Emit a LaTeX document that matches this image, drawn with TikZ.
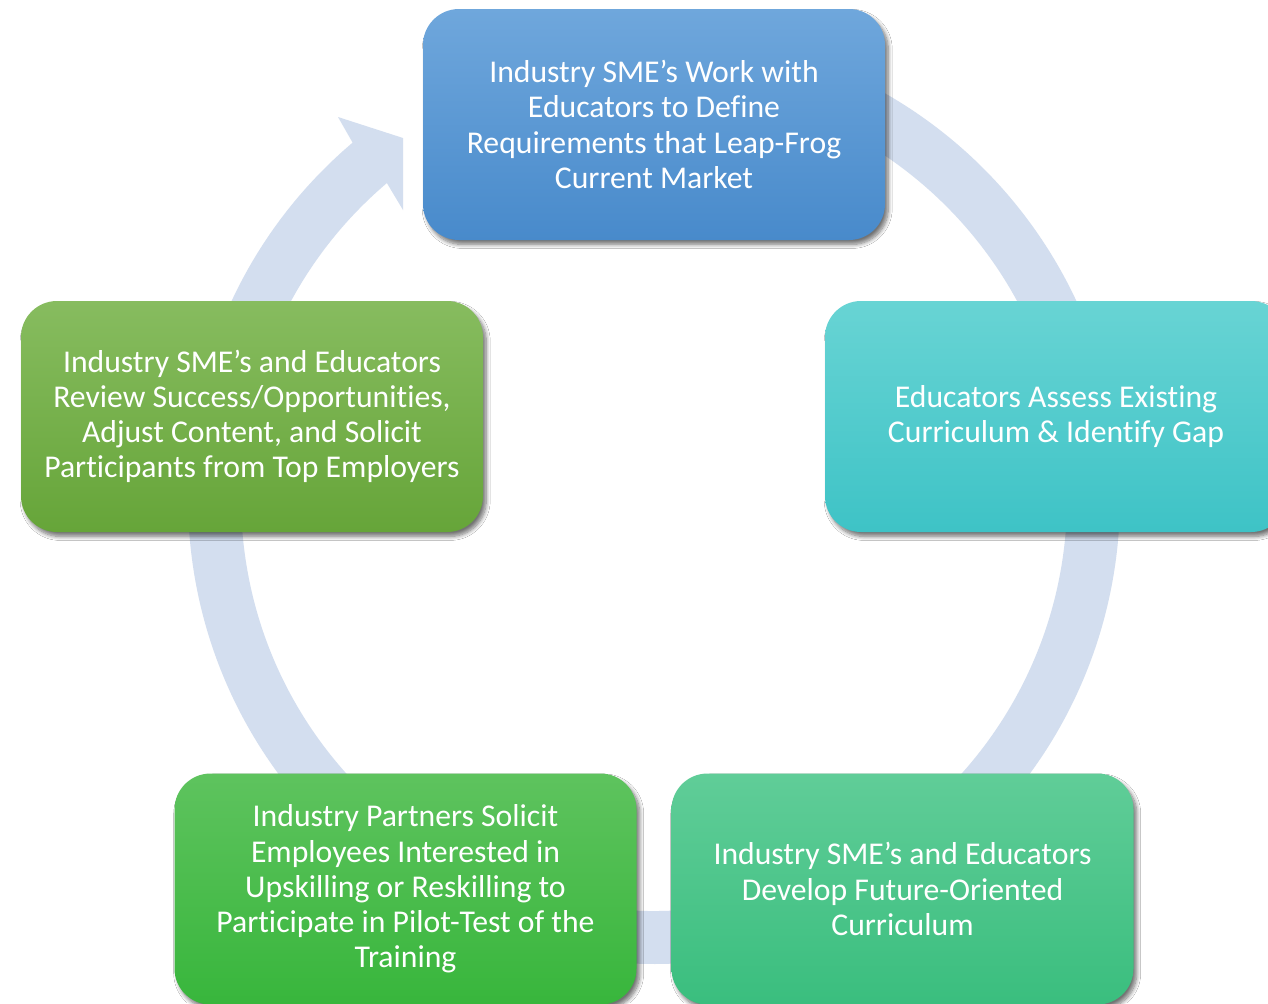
\documentclass[tikz,border=0pt]{standalone}
\usepackage{fontspec}
\setmainfont{Carlito}[Ligatures={NoCommon}]
\usetikzlibrary{calc,shadows.blur}

\definecolor{ringfill}{HTML}{D3DEEF}
\definecolor{blueT}{HTML}{6FA7DC}
\definecolor{blueB}{HTML}{488ACB}
\definecolor{tealT}{HTML}{68D4D4}
\definecolor{tealB}{HTML}{3EC3C6}
\definecolor{mintT}{HTML}{60CD98}
\definecolor{mintB}{HTML}{3ABE7E}
\definecolor{grnT}{HTML}{5EC35E}
\definecolor{grnB}{HTML}{38B63C}
\definecolor{oliveT}{HTML}{87BC5F}
\definecolor{oliveB}{HTML}{66A539}

\tikzset{
  stagebox/.style={
    rectangle, rounded corners=18pt,
    minimum width=231pt, minimum height=115.5pt,
    inner sep=0pt, align=center, text=white,
    font=\fontsize{15.85}{17.6}\selectfont,
    blur shadow={shadow xshift=1.6pt, shadow yshift=-2.2pt,
                 shadow blur radius=2pt, shadow blur steps=8,
                 shadow opacity=55}
  },
  shadefill/.style 2 args={top color=#1, bottom color=#2}
}

\begin{document}
\begin{tikzpicture}[x=0.5pt, y=-0.5pt]
  \useasboundingbox (0,0) rectangle (1268,1003);
  \clip (0,0) rectangle (1268,1003);
  \fill[white] (0,0) rectangle (1268,1003);

  % centre of the circular arrow
  \coordinate (ctr) at (654,498);

  % circular arrow running clockwise, head ending beside the first stage
  \coordinate (headtip)   at (403,138);
  \coordinate (wingout)   at (338,117);
  \coordinate (wingin)    at (403,210);
  \fill[ringfill]
    ($(ctr)+(-130.3:413)$) -- (wingin) -- (headtip)
    -- (wingout) -- ($(ctr)+(-130.3:466)$)
    arc[start angle=-130.3, end angle=-455, radius=466]
    -- ($(ctr)+(-455:413)$)
    arc[start angle=-455, end angle=-130.3, radius=413] -- cycle;

  % stages of the cycle
  \node[stagebox, shadefill={blueT}{blueB}] (define) at (654,124.5)
    {Industry SME’s Work with\\Educators to Define\\Requirements that Leap-Frog\\Current Market};
  \node[stagebox, shadefill={tealT}{tealB}] (assess) at (1056,416.5)
    {Educators Assess Existing\\Curriculum \& Identify Gap};
  \node[stagebox, shadefill={mintT}{mintB}] (develop) at (902.5,889)
    {Industry SME’s and Educators\\Develop Future-Oriented\\Curriculum};
  \node[stagebox, shadefill={grnT}{grnB}] (pilot) at (405.5,889)
    {Industry Partners Solicit\\Employees Interested in\\Upskilling or Reskilling to\\Participate in Pilot-Test of the\\Training};
  \node[stagebox, shadefill={oliveT}{oliveB}] (review) at (252,416.5)
    {Industry SME’s and Educators\\Review Success/Opportunities,\\Adjust Content, and Solicit\\Participants from Top Employers};
\end{tikzpicture}
\end{document}
